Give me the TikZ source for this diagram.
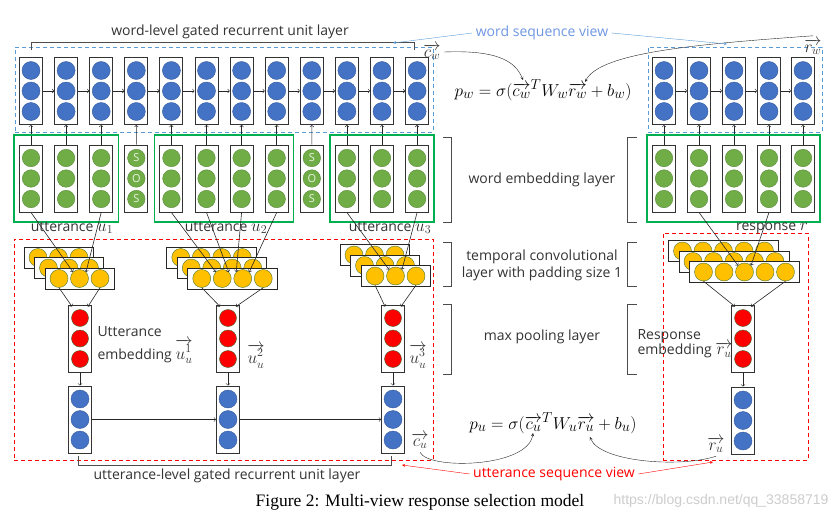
\documentclass[tikz,border=0pt]{standalone}
\usepackage{fontspec}
\setmainfont{Open Sans}
\newfontfamily\capfont{Liberation Serif}
\newfontfamily\markfont{Liberation Sans}
\usetikzlibrary{positioning,fit,calc}

\definecolor{grublue}{RGB}{68,114,196}
\definecolor{embgreen}{RGB}{112,173,71}
\definecolor{convyellow}{RGB}{255,192,0}
\definecolor{poolred}{RGB}{255,0,0}
\definecolor{framegreen}{RGB}{0,176,80}
\definecolor{viewblue}{RGB}{91,155,213}
\definecolor{viewtext}{RGB}{110,150,225}

\tikzset{
    unitcol/.style={draw=black!80, fill=white, line width=0.9pt,
        minimum width=23pt, minimum height=67pt, inner sep=0pt},
    bluedot/.style={circle, fill=grublue, draw=grublue!80!black,
        minimum size=18pt, inner sep=0pt},
    greendot/.style={circle, fill=embgreen, draw=embgreen!80!black,
        minimum size=17.5pt, inner sep=0pt,
        text=white!85!embgreen, font=\fontsize{11}{11}\selectfont},
    yellowdot/.style={circle, fill=convyellow, draw=embgreen!70!black,
        minimum size=18pt, inner sep=0pt},
    reddot/.style={circle, fill=poolred, draw=embgreen!60!black,
        minimum size=17pt, inner sep=0pt},
    convrow/.style={draw=black!85, fill=white, line width=0.9pt,
        minimum height=21pt, inner sep=0pt},
    gframe/.style={draw=framegreen, line width=1.3pt,
        inner xsep=5pt, inner ysep=9.5pt},
    viewbox/.style={draw=#1, line width=0.8pt, dash pattern=on 4pt off 3pt},
    lbl/.style={font=\fontsize{14}{17}\selectfont, text=black!80},
    brk/.style={line width=0.8pt, black!70},
    flow/.style={->, black!85, line width=0.6pt},
}

\newcommand\lm[1]{{\fontsize{17.5}{17.5}\selectfont$#1$}}

\newcommand\dotcolumn[7]{%
    \node[unitcol] (#1) at (#2,#3) {};
    \node[#4] (#1-1) at (#2,#3-20.5) {#5};
    \node[#4] (#1-2) at (#2,#3) {#6};
    \node[#4] (#1-3) at (#2,#3+20.5) {#7};
}

\newcommand\convstack[4]{%
    \foreach \k in {2,1,0} {
        \pgfmathsetmacro\sx{#2-10.5*\k}
        \pgfmathsetmacro\sy{#3-10.5*\k}
        \node[convrow, minimum width={(#4-1)*20.5+28}] (#1-layer\k) at (\sx,\sy) {};
        \foreach \j in {1,...,#4} {
            \node[yellowdot] (#1-layer\k-\j) at ({\sx+(\j-(#4+1)/2)*20.5},\sy) {};
        }
    }
}

\begin{document}
\begin{tikzpicture}[x=1pt, y=-1pt]
    \useasboundingbox (0,0) rectangle (839,522);

    \node[viewbox=viewblue, minimum width=418, minimum height=85] (wview) at (224,89.5) {};
    \node[viewbox=viewblue, minimum width=174, minimum height=85] (rwview) at (735,89.5) {};
    \node[viewbox=red, minimum width=419, minimum height=221] (uview) at (223.5,349.5) {};
    \node[viewbox=red, minimum width=145, minimum height=227] (ruview) at (735.5,346.5) {};

    \foreach \i in {1,...,12} {
        \pgfmathsetmacro\cx{31+(\i-1)*35.1}
        \dotcolumn{w\i}{\cx}{91}{bluedot}{}{}{}
    }
    \foreach \i in {1,2,3,5,6,7,8,10,11,12} {
        \pgfmathsetmacro\cx{31+(\i-1)*35.1}
        \dotcolumn{e\i}{\cx}{178.5}{greendot}{}{}{}
    }
    \dotcolumn{e4}{136.3}{178.5}{greendot}{S}{O}{S}
    \dotcolumn{e9}{311.8}{178.5}{greendot}{S}{O}{S}
    \foreach \i in {1,...,11} {
        \pgfmathtruncatemacro\j{\i+1}
        \draw[flow] (w\i.east) -- (w\j.west);
    }
    \foreach \i in {1,...,12}
        \draw[flow] (e\i.north) -- (w\i.south);

    \foreach \x [count=\i] in {664,699,734,769,803} {
        \dotcolumn{rw\i}{\x}{91}{bluedot}{}{}{}
        \dotcolumn{re\i}{\x}{178.5}{greendot}{}{}{}
        \draw[flow] (re\i.north) -- (rw\i.south);
    }
    \foreach \i in {1,...,4} {
        \pgfmathtruncatemacro\j{\i+1}
        \draw[flow] (rw\i.east) -- (rw\j.west);
    }

    \node[gframe, fit=(e1)(e3)] (utt1) {};
    \node[gframe, fit=(e5)(e8)] (utt2) {};
    \node[gframe, fit=(e10)(e12)] (utt3) {};
    \node[gframe, fit=(re1)(re5)] (resp) {};

    \node[lbl] (utt1lbl) at (72,228) {utterance \lm{u_1}};
    \node[lbl] (utt2lbl) at (226,228) {utterance \lm{u_2}};
    \node[lbl] (utt3lbl) at (390,228) {utterance \lm{u_3}};
    \node[lbl] (resplbl) at (772,228) {response \lm{r}};

    \convstack{cu1}{79.5}{278.5}{3}
    \convstack{cu2}{232.5}{278.5}{4}
    \convstack{cu3}{395.5}{276}{3}
    \convstack{cr}{744.5}{272}{5}

    \draw[flow] (e1.south) -- (cu1-layer0-2.north west);
    \draw[flow] (e3.south) -- (cu1-layer0-2.north east);
    \draw[flow] (e5.south) -- (cu2-layer0-2.north west);
    \draw[flow] (e6.south) -- (cu2-layer0-2.north east);
    \draw[flow] (e7.south) -- (cu2-layer0-3.north west);
    \draw[flow] (e8.south) -- (cu2-layer0-3.north east);
    \draw[flow] (e10.south) -- (cu3-layer0-2.north west);
    \draw[flow] (e12.south) -- (cu3-layer0-2.north east);
    \draw[flow] (re2.south) -- (cr-layer0-3.north west);
    \draw[flow] (re4.south) -- (cr-layer0-3.north east);

    \foreach \x [count=\i] in {80,228,393} {
        \dotcolumn{p\i}{\x}{338.5}{reddot}{}{}{}
        \dotcolumn{g\i}{\x}{419.5}{bluedot}{}{}{}
        \draw[flow] (p\i.south) -- (g\i.north);
    }
    \dotcolumn{rp}{743}{338.5}{reddot}{}{}{}
    \dotcolumn{rg}{743}{420.5}{bluedot}{}{}{}
    \draw[flow] (rp.south) -- (rg.north);
    \draw[flow] (g1.east) -- (g2.west);
    \draw[flow] (g2.east) -- (g3.west);

    \draw[flow] (cu1-layer0-1.south) -- ($(p1.north west)+(4,2)$);
    \draw[flow] (cu1-layer0-3.south) -- ($(p1.north east)+(-4,2)$);
    \draw[flow] (cu2-layer0-1.south) -- ($(p2.north west)+(4,2)$);
    \draw[flow] (cu2-layer0-4.south) -- ($(p2.north east)+(-4,2)$);
    \draw[flow] (cu3-layer0-1.south) -- ($(p3.north west)+(4,2)$);
    \draw[flow] (cu3-layer0-3.south) -- ($(p3.north east)+(-4,2)$);
    \draw[flow] (cr-layer0-1.south) -- ($(rp.north west)+(4,2)$);
    \draw[flow] (cr-layer0-5.south) -- ($(rp.north east)+(-4,2)$);

    \node[lbl, align=left, anchor=west] (uemb) at (94,345)
        {Utterance\\[2pt]embedding \lm{\overrightarrow{u_u^1}}};
    \node[lbl] (u2lbl) at (256,356) {\lm{\overrightarrow{u_u^2}}};
    \node[lbl] (u3lbl) at (418,356) {\lm{\overrightarrow{u_u^3}}};
    \node[lbl] (culbl) at (420,441) {\lm{\overrightarrow{c_u}}};
    \node[lbl, align=left, anchor=west] (remb) at (634,344)
        {Response\\[-2pt]embedding \lm{\overrightarrow{r_u}}};
    \node[lbl] (rulbl) at (716,445) {\lm{\overrightarrow{r_u}}};
    \node[lbl] (cwlbl) at (432,52) {\lm{\overrightarrow{c_w}}};
    \node[lbl] (rwlbl) at (813,47) {\lm{\overrightarrow{r_w}}};

    \draw[brk] (31,50) -- (31,42) -- (414,42) -- (414,50);
    \node[lbl] (wgru) at (230,32) {word-level gated recurrent unit layer};
    \draw[brk] (78,456) -- (78,465) -- (391,465) -- (391,456);
    \node[lbl] (ugru) at (227,476) {utterance-level gated recurrent unit layer};

    \foreach \t/\b in {137/222,242/286,304/374} {
        \draw[brk] (443,\t) -- (451,\t) -- (451,\b) -- (443,\b);
        \draw[brk] (637,\t) -- (627,\t) -- (627,\b) -- (637,\b);
    }
    \node[lbl] (emblayer) at (542,180) {word embedding layer};
    \node[lbl, align=center] (convlayer) at (542,265)
        {temporal convolutional\\layer with padding size 1};
    \node[lbl] (poollayer) at (542,337) {max pooling layer};

    \node[font=\fontsize{19}{21}\selectfont] (pw) at (543,90)
        {$p_w = \sigma(\overrightarrow{c_w}^T W_w \overrightarrow{r_w} + b_w)$};
    \node[font=\fontsize{19}{21}\selectfont] (pu) at (553,423)
        {$p_u = \sigma(\overrightarrow{c_u}^T W_u \overrightarrow{r_u} + b_u)$};

    \coordinate (cwtip) at (523,80);
    \coordinate (rwtip) at (585,82);
    \coordinate (cutip) at (533,433);
    \coordinate (rutip) at (590,437);
    \draw[-stealth, black!85] (cwlbl.east) .. controls (495,50) and (515,60) .. (cwtip);
    \draw[-stealth, black!85] (rwlbl.north) .. controls (700,44) and (600,52) .. (rwtip);
    \draw[-stealth, black!85] (culbl.south) .. controls (428,470) and (528,468) .. (cutip);
    \draw[-stealth, black!85] (rulbl.south) .. controls (680,468) and (600,462) .. (rutip);

    \node[lbl, text=viewtext] (wsv) at (542,33) {word sequence view};
    \coordinate (wsvl) at (393,43);
    \coordinate (wsvr) at (727,44);
    \draw[-stealth, viewblue] (wsv.west) -- (wsvl);
    \draw[-stealth, viewblue] (wsv.east) -- (wsvr);

    \node[lbl, text=red] (usv) at (554,474) {utterance sequence view};
    \coordinate (usvl) at (402,465);
    \coordinate (usvr) at (713,462);
    \draw[-stealth, red] (usv.west) -- (usvl);
    \draw[-stealth, red] (usv.east) -- (usvr);

    \node[font=\markfont\fontsize{14}{16}\selectfont, text=black!20, anchor=east] (mark) at (832,501)
        {https://blog.csdn.net/qq\_33858719};
    \node[font=\capfont\fontsize{17.5}{20}\selectfont] (caption) at (420,502)
        {Figure 2: Multi-view response selection model};

\end{tikzpicture}
\end{document}
